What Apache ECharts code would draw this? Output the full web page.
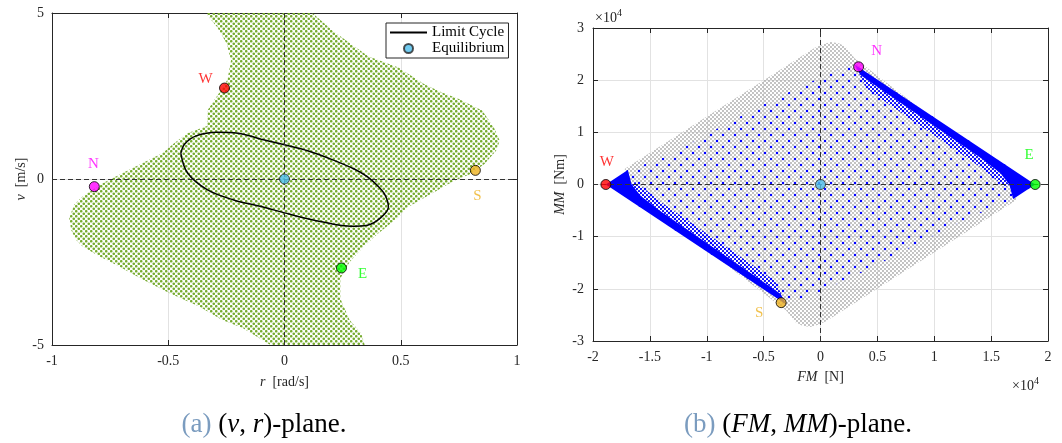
<!DOCTYPE html>
<html>
<head>
<meta charset="utf-8">
<script src="https://cdn.jsdelivr.net/npm/echarts@6/dist/echarts.min.js"></script>
<style>
  html, body { margin: 0; padding: 0; background: #ffffff; }
  #chart { width: 1062px; height: 443px; }
</style>
</head>
<body>
<div id="chart"></div>
<script>
// ---------- (v, r)-plane ----------
// outline of the sampled initial-condition cloud (r [rad/s], v [m/s])
const regionR = [-0.34, 0.12, 0.21, 0.36, 0.49, 0.60, 0.675, 0.75, 0.85, 0.90, 0.926, 0.91, 0.86, 0.80, 0.73, 0.63, 0.53, 0.49, 0.40, 0.34, 0.28, 0.24, 0.24, 0.28, 0.33, 0.345,
                 -0.06, -0.18, -0.27, -0.367, -0.496, -0.61, -0.725, -0.797, -0.868, -0.897, -0.918, -0.926, -0.904, -0.868, -0.78, -0.696, -0.582, -0.524, -0.476, -0.418, -0.333, -0.33, -0.30, -0.27, -0.245, -0.23, -0.25, -0.29];
const regionV = [5.0, 5.0, 4.45, 3.70, 3.36, 2.86, 2.61, 2.41, 2.06, 1.56, 1.15, 0.85, 0.45, 0.15, -0.05, -0.45, -0.85, -1.15, -1.66, -2.04, -2.50, -3.00, -3.60, -4.25, -4.65, -5.0,
                 -5.0, -4.49, -4.24, -3.84, -3.43, -3.03, -2.58, -2.33, -2.03, -1.83, -1.53, -1.17, -0.77, -0.52, -0.12, 0.18, 0.58, 0.78, 1.07, 1.38, 1.60, 2.08, 2.40, 2.70, 3.00, 3.58, 4.10, 4.58];

// limit cycle
const cycleR = [-0.446, -0.43, -0.38, -0.29, -0.20, -0.10, 0.00, 0.10, 0.21, 0.30, 0.356, 0.40, 0.43, 0.447, 0.413, 0.357, 0.284, 0.211, 0.10, 0.00, -0.10, -0.219, -0.331, -0.417, -0.446];
const cycleV = [0.77, 1.05, 1.30, 1.41, 1.38, 1.20, 1.03, 0.85, 0.57, 0.30, 0.07, -0.20, -0.45, -0.84, -1.17, -1.39, -1.42, -1.36, -1.20, -1.02, -0.83, -0.63, -0.33, 0.18, 0.77];

const pointNames = ['W', 'N', 'S', 'E'];
const vrPointR = [-0.258, -0.818, 0.821, 0.245];
const vrPointV = [2.74, -0.23, 0.26, -2.68];
const equilibriumVR = [0, 0];

// ---------- (FM, MM)-plane ----------
// envelope of the sampled forces / moments
const envelopeFM = [-17200, -17200, -500, 200, 900, 1600, 2200, 3000, 17200, 17200, 500, -200, -900, -1600, -2200, -3000];
const envelopeMM = [-500, 3000, 26200, 26900, 27300, 27100, 26400, 24200, 500, -3000, -26200, -26900, -27300, -27100, -26400, -24200];

// mapped samples
const mappedFM = [-18870, -16940, -14000, -12000, -8000, -4000, 0, 2000, 3000, 18870, 16940, 14000, 12000, 8000, 4000, 0, -3000];
const mappedMM = [0, 2760, 5000, 7200, 12000, 16500, 20500, 22500, 23000, 0, -2760, -5500, -7500, -12000, -16500, -20500, -23000];

// saturated edges: solid core and dense fringe
const bandWestFM = [-18870, -3000, -3500, -6000, -10000, -14000, -15800, -16600, -16940];
const bandWestMM = [0, -23000, -21000, -17200, -11200, -5200, -2200, 0, 2760];
const fringeWestFM = [-16600, -15800, -14000, -10000, -6000, -3500, -3000, -4000, -6000, -10000, -14000, -15600, -16300];
const fringeWestMM = [0, -2200, -5200, -11200, -17200, -21000, -23000, -18500, -15400, -9400, -3400, -600, 500];
const bandEastFM = [18870, 3000, 3500, 6000, 10000, 14000, 15800, 16600, 16940];
const bandEastMM = [0, 23000, 21000, 17200, 11200, 5200, 2200, 0, -2760];
const fringeEastFM = [16600, 15800, 14000, 10000, 6000, 3500, 3000, 4000, 6000, 10000, 14000, 15600, 16300];
const fringeEastMM = [0, 2200, 5200, 11200, 17200, 21000, 23000, 18500, 15400, 9400, 3400, 600, -500];

const fmPointFM = [-18870, 3350, -3460, 18870];
const fmPointMM = [0, 22560, -22650, 0];
const equilibriumFM = [0, 0];

// ---------- styling ----------
const SERIF = 'Liberation Serif';
const INK = '#262626';
const pointColors = { W: '#ff0000', N: '#ff00ff', S: '#edb120', E: '#00ff00' };
const vrLabelOffset = { W: [-19, -9], N: [-1, -23], S: [2, 26], E: [21, 6] };
const fmLabelOffset = { W: [1, -22], N: [18, -16], S: [-22, 10], E: [-6, -29] };

function dotTile(size, dots, radius, color) {
  const c = document.createElement('canvas');
  c.width = size; c.height = size;
  const g = c.getContext('2d');
  g.fillStyle = color;
  dots.forEach(function (d) {
    g.beginPath(); g.arc(d[0], d[1], radius, 0, Math.PI * 2); g.fill();
  });
  return { image: c, repeat: 'repeat' };
}
const greenDots = dotTile(5, [[1.25, 1.25], [3.75, 3.75]], 1.3, '#77ac30');
const greyDots = dotTile(4, [[1, 1], [3, 3]], 0.9, '#a8a8a8');
const blueDots = dotTile(12, [[3, 3], [9, 9]], 1.25, '#0000ff');
const blueDense = dotTile(4, [[1, 1], [3, 3]], 1.05, '#0000ff');

function polygonSeries(name, xs, ys, axisIdx, fill, z) {
  return {
    type: 'custom', name: name, xAxisIndex: axisIdx, yAxisIndex: axisIdx, z: z, silent: true,
    data: xs.map(function (x, i) { return [x, ys[i]]; }),
    renderItem: function (params, api) {
      if (params.dataIndex !== 0) return null;
      const pts = xs.map(function (x, i) { return api.coord([x, ys[i]]); });
      return { type: 'polygon', shape: { points: pts }, style: { fill: fill, stroke: null } };
    }
  };
}

function pointSeries(name, xs, ys, axisIdx, offsets) {
  return {
    type: 'scatter', name: name, xAxisIndex: axisIdx, yAxisIndex: axisIdx, z: 6, silent: true,
    symbolSize: 10,
    data: pointNames.map(function (n, i) {
      return {
        name: n, value: [xs[i], ys[i]],
        itemStyle: { color: pointColors[n], borderColor: '#000', borderWidth: 1 },
        label: { show: true, position: 'inside', offset: offsets[n], formatter: '{b}', color: pointColors[n],
                 fontFamily: SERIF, fontSize: 15 }
      };
    })
  };
}

const dashed = {
  silent: true, symbol: ['none', 'none'], label: { show: false },
  lineStyle: { color: '#333333', type: [5, 3], width: 1 },
  emphasis: { disabled: true },
  data: [{ xAxis: 0 }, { yAxis: 0 }]
};

const labelStyle = { fontFamily: SERIF, fontSize: 14, color: INK };
const lineStyle = { color: INK, width: 1 };

function mainAxis(opt) {
  return Object.assign({
    type: 'value',
    axisLine: { show: true, onZero: false, lineStyle: lineStyle },
    axisTick: { show: true, inside: true, length: 5, lineStyle: lineStyle },
    axisLabel: Object.assign({ margin: 9 }, labelStyle),
    splitLine: { show: true, lineStyle: { color: '#e2e2e2', width: 1 } },
    nameLocation: 'middle',
    nameTextStyle: Object.assign({ rich: { i: Object.assign({ fontStyle: 'italic' }, labelStyle) } }, labelStyle)
  }, opt);
}
function mirrorAxis(opt) {
  return Object.assign({
    type: 'value',
    axisLine: { show: true, onZero: false, lineStyle: lineStyle },
    axisTick: { show: true, inside: true, length: 5, lineStyle: lineStyle },
    axisLabel: { show: false },
    splitLine: { show: false }
  }, opt);
}
const fmt4 = function (v) { return String(v / 10000); };
const captionRich = {
  c: { fill: '#7b9cbf', fontFamily: SERIF, fontSize: 27 },
  i: { fontStyle: 'italic', fontFamily: SERIF, fontSize: 27, fill: '#000' }
};

const option = {
  backgroundColor: '#ffffff',
  animation: false,
  grid: [
    { left: 52, top: 13, width: 465, height: 332 },
    { left: 593, top: 28, width: 455, height: 313 }
  ],
  xAxis: [
    mainAxis({ gridIndex: 0, position: 'bottom', min: -1, max: 1, interval: 0.5, name: '{i|r}  [rad/s]', nameGap: 30 }),
    mirrorAxis({ gridIndex: 0, position: 'top', min: -1, max: 1, interval: 0.5 }),
    mainAxis({ gridIndex: 1, position: 'bottom', min: -20000, max: 20000, interval: 5000, name: '{i|FM}  [N]', nameGap: 29,
               axisLabel: Object.assign({ margin: 9, formatter: fmt4 }, labelStyle) }),
    mirrorAxis({ gridIndex: 1, position: 'top', min: -20000, max: 20000, interval: 5000 })
  ],
  yAxis: [
    mainAxis({ gridIndex: 0, position: 'left', min: -5, max: 5, interval: 5, name: '{i|v}  [m/s]', nameGap: 18,
               axisLabel: Object.assign({ margin: 8 }, labelStyle) }),
    mirrorAxis({ gridIndex: 0, position: 'right', min: -5, max: 5, interval: 5 }),
    mainAxis({ gridIndex: 1, position: 'left', min: -30000, max: 30000, interval: 10000, name: '{i|MM}  [Nm]', nameGap: 26,
               axisLabel: Object.assign({ margin: 9, formatter: fmt4 }, labelStyle) }),
    mirrorAxis({ gridIndex: 1, position: 'right', min: -30000, max: 30000, interval: 10000 })
  ],
  legend: {
    data: [{ name: 'Limit Cycle', itemStyle: { opacity: 0 } }, { name: 'Equilibrium' }],
    orient: 'vertical', left: 386, top: 23,
    itemWidth: 37, itemHeight: 9, itemGap: 1,
    padding: [2, 4, 2, 3],
    backgroundColor: '#ffffff', borderColor: INK, borderWidth: 1,
    selectedMode: false,
    textStyle: { fontFamily: SERIF, fontSize: 15, color: '#000' }
  },
  series: [
    polygonSeries('samples', regionR, regionV, 0, greenDots, 1),
    {
      type: 'line', name: 'Limit Cycle', xAxisIndex: 0, yAxisIndex: 0, z: 4, silent: true,
      data: cycleR.map(function (r, i) { return [r, cycleV[i]]; }),
      symbol: 'none', showSymbol: false, smooth: 0.35,
      itemStyle: { color: '#000000' },
      lineStyle: { color: '#000000', width: 1.5 }
    },
    {
      type: 'scatter', name: 'Equilibrium', xAxisIndex: 0, yAxisIndex: 0, z: 6, silent: true,
      symbolSize: 10, data: [equilibriumVR],
      itemStyle: { color: '#4dbeee', borderColor: INK, borderWidth: 1 },
      markLine: dashed
    },
    pointSeries('vr corners', vrPointR, vrPointV, 0, vrLabelOffset),

    polygonSeries('envelope', envelopeFM, envelopeMM, 2, greyDots, 1),
    polygonSeries('mapped', mappedFM, mappedMM, 2, blueDots, 2),
    polygonSeries('west fringe', fringeWestFM, fringeWestMM, 2, blueDense, 3),
    polygonSeries('east fringe', fringeEastFM, fringeEastMM, 2, blueDense, 3),
    polygonSeries('west band', bandWestFM, bandWestMM, 2, '#0000ff', 4),
    polygonSeries('east band', bandEastFM, bandEastMM, 2, '#0000ff', 4),
    {
      type: 'scatter', name: 'Equilibrium FM', xAxisIndex: 2, yAxisIndex: 2, z: 6, silent: true,
      symbolSize: 10, data: [equilibriumFM],
      itemStyle: { color: '#4dbeee', borderColor: INK, borderWidth: 1 },
      markLine: dashed
    },
    pointSeries('fm corners', fmPointFM, fmPointMM, 2, fmLabelOffset)
  ],
  graphic: [
    { type: 'text', x: 595, y: 11, style: { text: '\u00d710', fontFamily: SERIF, fontSize: 14, fill: INK } },
    { type: 'text', x: 617, y: 8, style: { text: '4', fontFamily: SERIF, fontSize: 10, fill: INK } },
    { type: 'text', x: 1012, y: 379, style: { text: '\u00d710', fontFamily: SERIF, fontSize: 14, fill: INK } },
    { type: 'text', x: 1034, y: 376, style: { text: '4', fontFamily: SERIF, fontSize: 10, fill: INK } },
    { type: 'text', x: 264, y: 425,
      style: { text: '{c|(a)} ({i|v}, {i|r})-plane.', fontFamily: SERIF, fontSize: 27, fill: '#000',
               align: 'center', verticalAlign: 'middle', rich: captionRich } },
    { type: 'text', x: 798, y: 425,
      style: { text: '{c|(b)} ({i|FM}, {i|MM})-plane.', fontFamily: SERIF, fontSize: 27, fill: '#000',
               align: 'center', verticalAlign: 'middle', rich: captionRich } }
  ]
};

const chart = echarts.init(document.getElementById('chart'), null, { renderer: 'canvas' });
chart.setOption(option);
</script>
</body>
</html>
